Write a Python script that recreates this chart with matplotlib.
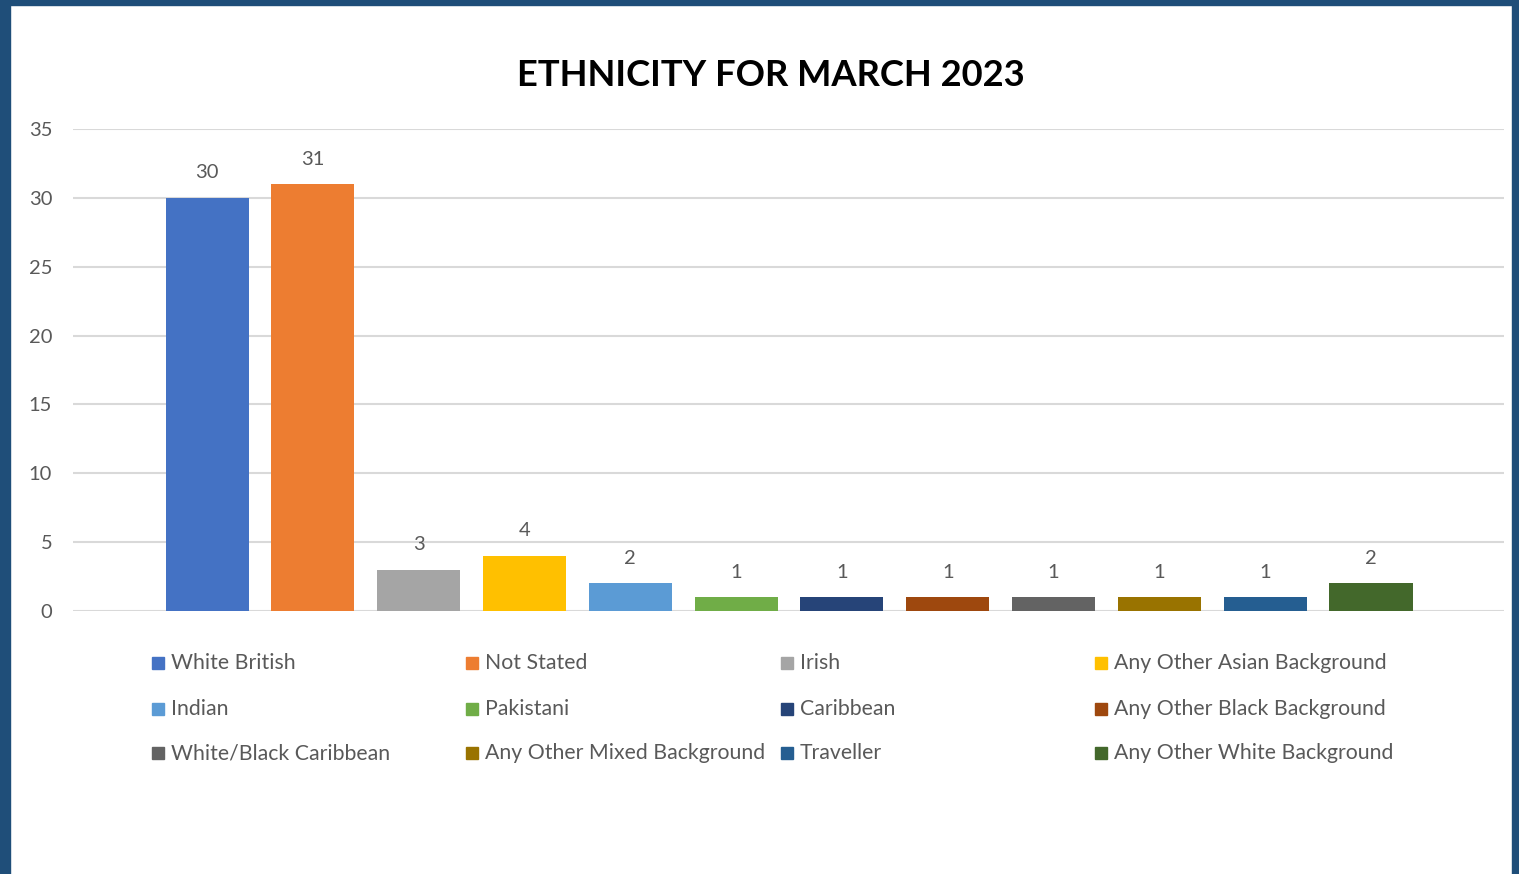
import matplotlib
matplotlib.use("Agg")
import matplotlib.pyplot as plt
from matplotlib.patches import Rectangle

plt.rcParams['font.family'] = ['Lato', 'DejaVu Sans']

categories = [
    "White British", "Not Stated", "Irish", "Any Other Asian Background",
    "Indian", "Pakistani", "Caribbean", "Any Other Black Background",
    "White/Black Caribbean", "Any Other Mixed Background", "Traveller",
    "Any Other White Background",
]
counts = [30, 31, 3, 4, 2, 1, 1, 1, 1, 1, 1, 2]
colors = [
    "#4472C4", "#ED7D31", "#A5A5A5", "#FFC000", "#5B9BD5", "#70AD47",
    "#264478", "#9E480E", "#636363", "#997300", "#255E91", "#43682B",
]
yticks = [0, 5, 10, 15, 20, 25, 30, 35]
title = "ETHNICITY FOR MARCH 2023"

W, H = 1519, 874
fig = plt.figure(figsize=(W / 100, H / 100), dpi=100)
fig.patch.set_facecolor("white")

text_grey = "#595959"
grid_grey = "#d9d9d9"

# plot area
ax = fig.add_axes([73 / W, (H - 611) / H, (1504 - 73) / W, (611 - 129) / H])
x = list(range(len(categories)))
bars = ax.bar(x, counts, width=0.785, color=colors, zorder=3)
ax.set_xlim(-1.267, 12.257)
ax.set_ylim(0, 35)
ax.set_yticks(yticks)
ax.set_xticks([])
ax.yaxis.grid(True, color=grid_grey, linewidth=1.5, zorder=0)
for s in ax.spines.values():
    s.set_visible(False)
ax.tick_params(axis="y", length=0, pad=15, labelsize=14.5, labelcolor=text_grey)
for lbl in ax.get_yticklabels():
    lbl.set_horizontalalignment("right")

for rect, v in zip(bars, counts):
    ax.annotate(str(v), (rect.get_x() + rect.get_width() / 2, v),
                xytext=(0, 18), textcoords="offset points",
                ha="center", va="center", fontsize=14.5, color=text_grey)

fig.text(771 / W, 1 - 75 / H, title, ha="center", va="center",
         fontsize=26.2, fontweight="bold", color="black")

# legend laid out in rows of four
col_x = [152, 466, 781, 1095]
row_y = [663, 709, 753]
sq = 12
for i, (name, c) in enumerate(zip(categories, colors)):
    cx = col_x[i % 4]
    cy = row_y[i // 4]
    fig.patches.append(Rectangle((cx / W, (H - cy - sq / 2) / H), sq / W, sq / H,
                                 transform=fig.transFigure, color=c))
    fig.text((cx + sq + 7) / W, 1 - cy / H, name, ha="left", va="center",
             fontsize=15.3, color=text_grey)

# frame around the chart
frame = "#1F4E79"
for (x0, y0, w, h) in [(0, 0, 10, H), (0, 0, W, 5), (W - 7, 0, 7, H)]:
    fig.patches.append(Rectangle((x0 / W, (H - y0 - h) / H), w / W, h / H,
                                 transform=fig.transFigure, color=frame, zorder=10))

fig.savefig("out.png", dpi=100)
